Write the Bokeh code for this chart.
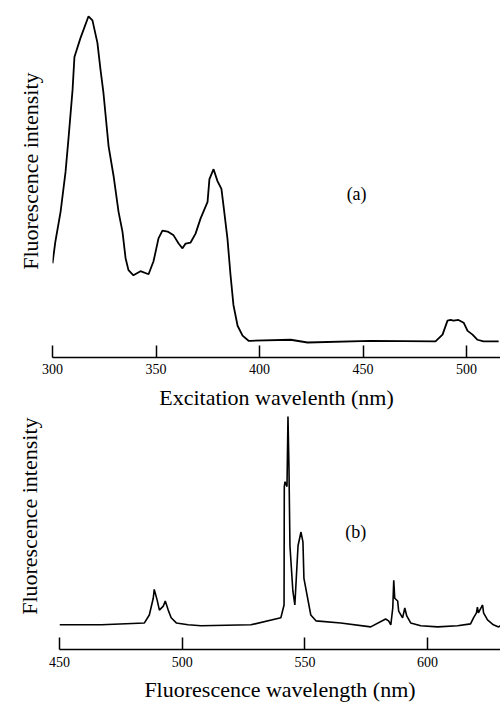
from bokeh.plotting import figure
from bokeh.models import Range1d, FixedTicker, Label, Title
from bokeh.embed import file_html
from bokeh.resources import INLINE

# (a) excitation spectrum
exc_nm = [300.0, 301.4, 303.9, 306.3, 307.7, 309.7, 310.6, 313.5, 317.4, 319.3, 321.7, 323.2, 324.6,
          327.1, 329.5, 331.9, 333.8, 335.3, 336.7, 339.1, 342.5, 346.4, 348.8, 351.2, 353.1, 355.6,
          358.5, 360.9, 362.8, 364.3, 366.7, 369.1, 371.5, 374.9, 375.8, 377.8, 379.7, 381.6, 382.6,
          384.5, 386.0, 387.4, 389.4, 391.8, 394.7, 395.7, 415.0, 423.2, 453.6, 485.0, 488.4, 490.8,
          492.3, 493.7, 496.1, 498.6, 500.5, 502.9, 505.3, 508.2, 515.5]
exc_int = [27.6, 34.0, 42.7, 54.4, 64.0, 78.5, 88.1, 93.6, 100, 98.8, 92.2, 84.3, 77.6,
           61.9, 53.2, 42.7, 36.9, 29.1, 25.6, 24.1, 25.3, 24.4, 28.2, 34.9, 37.2, 36.9,
           35.8, 33.4, 32.0, 33.4, 33.7, 36.3, 40.7, 45.6, 52.3, 55.2, 51.7, 49.4, 44.5,
           34.9, 24.1, 15.4, 9.3, 6.4, 4.9, 4.9, 5.2, 4.4, 4.9, 4.7, 6.7, 10.8,
           11.0, 10.8, 11.0, 10.2, 7.8, 6.7, 5.2, 4.7, 4.7]
exc_ticks = [300, 350, 400, 450, 500]

# (b) fluorescence spectrum
em_nm = [450.0, 467.1, 484.6, 486.6, 488.2, 488.6, 489.8, 490.7, 492.3, 493.1, 494.3, 495.5, 497.6,
         502.4, 507.7, 528.0, 540.2, 541.5, 541.6, 541.9, 542.7, 543.1, 543.5, 543.9, 545.1, 545.9,
         547.2, 548.4, 549.2, 549.6, 552.4, 554.5, 564.6, 576.8, 582.9, 584.1, 585.0, 585.8, 586.2,
         586.6, 587.8, 588.2, 589.8, 590.7, 591.5, 593.1, 597.2, 604.1, 612.2, 617.5, 618.7, 619.9,
         620.3, 620.7, 622.4, 622.8, 624.4, 626.8, 628.9, 629.7]
em_int = [10.6, 10.6, 11.4, 14.8, 22.0, 25.8, 21.2, 16.9, 18.6, 20.8, 16.9, 13.6, 11.4,
          10.6, 10.2, 10.6, 13.6, 19.1, 69.9, 72.0, 69.9, 100, 78.4, 44.5, 25.0, 19.1,
          44.5, 50.4, 46.2, 30.5, 14.8, 12.3, 11.4, 9.7, 13.1, 12.3, 10.6, 17.8, 29.7,
          22.0, 20.8, 16.5, 13.6, 17.8, 14.4, 11.4, 10.2, 9.7, 10.2, 11.0, 13.6, 15.7,
          18.2, 15.7, 19.1, 15.7, 12.7, 10.6, 9.7, 10.2]
em_ticks = [450, 500, 550, 600]

y_title = "Fluorescence intensity"
x_title_a = "Excitation wavelenth (nm)"
x_title_b = "Fluorescence wavelength (nm)"

SERIF = "Liberation Serif"
NARROW = "Liberation Sans Narrow"


def make_fig(xr, yr, height, top, bottom, left, ticks, xlabel, lab_std, axlab_std,
             ytitle_standoff, ytitle_offset, ytitle_valign):
    p = figure(width=500, height=height, output_backend="svg", toolbar_location=None,
               x_range=xr, y_range=yr, min_border_top=top, min_border_bottom=bottom,
               min_border_left=left, min_border_right=0, y_axis_location=None)
    p.outline_line_color = None
    p.xgrid.visible = False
    p.ygrid.visible = False
    ax = p.xaxis[0]
    ax.ticker = FixedTicker(ticks=ticks, minor_ticks=[])
    ax.major_tick_in = 12
    ax.major_tick_out = 0
    ax.major_tick_line_width = 1.5
    ax.major_tick_line_color = "black"
    ax.axis_line_width = 1.5
    ax.axis_line_color = "black"
    ax.major_label_text_font = NARROW
    ax.major_label_text_font_size = "14px"
    ax.major_label_text_color = "black"
    ax.major_label_standoff = lab_std
    ax.axis_label = xlabel
    ax.axis_label_text_font = SERIF
    ax.axis_label_text_font_style = "normal"
    ax.axis_label_text_font_size = "22px"
    ax.axis_label_text_color = "black"
    ax.axis_label_standoff = axlab_std
    p.add_layout(Title(text=y_title, align="right", vertical_align=ytitle_valign,
                       standoff=ytitle_standoff, offset=ytitle_offset,
                       text_font=SERIF, text_font_style="normal",
                       text_font_size="22px", text_color="black"), "left")
    return p


p1 = make_fig(Range1d(300, 516.4), Range1d(0, 101.7), 412, 10, 52, 52,
              exc_ticks, x_title_a, 6, 8, 20, 62, "bottom")
p1.line(exc_nm, exc_int, line_color="black", line_width=1.8)
p1.add_layout(Label(x=446.9, y=48.0, text="(a)", text_align="center", text_baseline="middle",
                    text_font=SERIF, text_font_size="18px", text_color="black"))

p2 = make_fig(Range1d(450, 629.7), Range1d(0, 100.4), 292, 3, 52, 58,
              em_ticks, x_title_b, 7, 7, 32, 2, "top")
p2.line(em_nm, em_int, line_color="black", line_width=1.6)
p2.add_layout(Label(x=570.7, y=50.4, text="(b)", text_align="center", text_baseline="middle",
                    text_font=SERIF, text_font_size="18px", text_color="black"))

open("out.html", "w").write(file_html([p1, p2], INLINE))
